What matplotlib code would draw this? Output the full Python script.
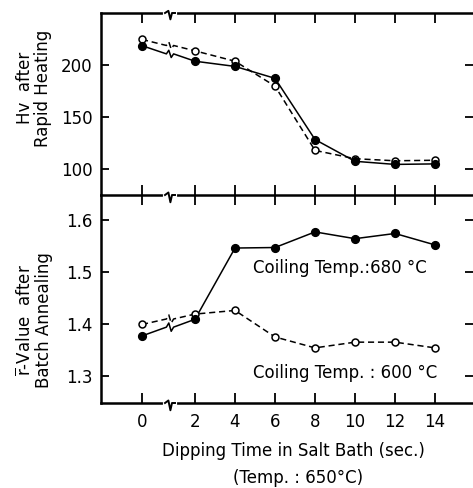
import matplotlib.pyplot as plt
import numpy as np

# dipping time in salt bath (sec.)
times = [0, 2, 4, 6, 8, 10, 12, 14]
# axis is broken between 0 and 2, so 0 sits a little further left
xpos = [-0.65, 2, 4, 6, 8, 10, 12, 14]
tick_labels = ["0", "2", "4", "6", "8", "10", "12", "14"]

hv_680 = [219, 204, 199, 187.5, 128.5, 107.5, 104.5, 105]
hv_600 = [225, 214, 204, 180, 118, 110, 108, 108.5]
r_680 = [1.378, 1.41, 1.547, 1.548, 1.578, 1.565, 1.575, 1.553]
r_600 = [1.40, 1.42, 1.427, 1.376, 1.355, 1.366, 1.366, 1.355]

XBREAK = 0.75
FS = 12


def broken_line(x, y, dy):
    # put a small zigzag in the first segment where the axis is broken
    yb = np.interp(XBREAK, x[:2], y[:2])
    xs = [x[0], XBREAK - 0.18, XBREAK - 0.06, XBREAK + 0.06, XBREAK + 0.18] + list(x[1:])
    ys = [y[0], yb, yb + dy, yb - dy, yb] + list(y[1:])
    return xs, ys


def draw_series(ax, y, dy, filled):
    xs, ys = broken_line(xpos, y, dy)
    ls = "-" if filled else (0, (4, 2.5))
    ax.plot(xs, ys, color="black", lw=1.1, linestyle=ls)
    ax.plot(xpos, y, linestyle="none", marker="o", ms=5.5 if filled else 5,
            mfc="black" if filled else "white", mec="black", mew=1.1, zorder=3)


def axis_break(ax, y_axes):
    # zigzag on a horizontal spine
    tr = ax.get_xaxis_transform()
    ax.plot([XBREAK - 0.25, XBREAK + 0.25], [y_axes, y_axes], color="white", lw=3,
            transform=tr, clip_on=False, zorder=5)
    ax.plot([XBREAK - 0.25, XBREAK - 0.08, XBREAK + 0.02, XBREAK + 0.1, XBREAK + 0.25],
            [y_axes, y_axes + 0.012, y_axes - 0.035, y_axes, y_axes],
            color="black", lw=1.4, transform=tr, clip_on=False, zorder=6)


plt.rcParams["font.family"] = "DejaVu Sans"
fig = plt.figure(figsize=(4.73, 4.88), dpi=100)
ax1 = fig.add_axes([101 / 473, 1 - 195 / 488, 372 / 473, 182 / 488])
ax2 = fig.add_axes([101 / 473, 1 - 403 / 488, 372 / 473, 208 / 488])

for ax in (ax1, ax2):
    ax.set_xlim(-2.7, 15.9)
    ax.set_xticks(xpos)
    ax.spines["right"].set_visible(False)
    for s in ("left", "top", "bottom"):
        ax.spines[s].set_linewidth(1.8)
    ax.tick_params(axis="both", direction="in", length=7, width=1.3,
                   top=True, bottom=True, right=True, labelsize=FS, pad=6)
    ax.tick_params(axis="y", which="both", right=True, length=6)

ax1.set_ylim(75, 250.5)
ax1.set_yticks([100, 150, 200])
ax1.set_yticklabels(["100", "150", "200"])
ax1.tick_params(axis="x", labelbottom=False)
ax1.spines["bottom"].set_visible(False)

ax2.set_ylim(1.249, 1.649)
ax2.set_yticks([1.3, 1.4, 1.5, 1.6])
ax2.set_yticklabels(["1.3", "1.4", "1.5", "1.6"])
ax2.set_xticklabels(tick_labels)
ax2.tick_params(axis="x", pad=7)

draw_series(ax1, hv_600, 3.5, False)
draw_series(ax1, hv_680, 3.5, True)
draw_series(ax2, r_600, 0.008, False)
draw_series(ax2, r_680, 0.008, True)

axis_break(ax1, 1.0)
axis_break(ax2, 1.0)
axis_break(ax2, 0.0)

ax2.text(4.9, 1.509, "Coiling Temp.:680 °C", fontsize=FS, va="center")
ax2.text(4.9, 1.307, "Coiling Temp. : 600 °C", fontsize=FS, va="center")

ax1.text(-0.18, 0.588, "Hv  after\nRapid Heating", transform=ax1.transAxes,
         rotation=90, ha="center", va="center", fontsize=FS, linespacing=1.0)
ax2.text(-0.18, 0.40, "$\\overline{\\mathrm{r}}$-Value  after\nBatch Annealing",
         transform=ax2.transAxes, rotation=90, ha="center", va="center",
         fontsize=FS, linespacing=1.0)

fig.text(293 / 473, 1 - 451 / 488, "Dipping Time in Salt Bath (sec.)",
         ha="center", va="center", fontsize=FS)
fig.text(298 / 473, 1 - 478 / 488, "(Temp. : 650°C)",
         ha="center", va="center", fontsize=FS)

fig.savefig("out.png", dpi=100)
